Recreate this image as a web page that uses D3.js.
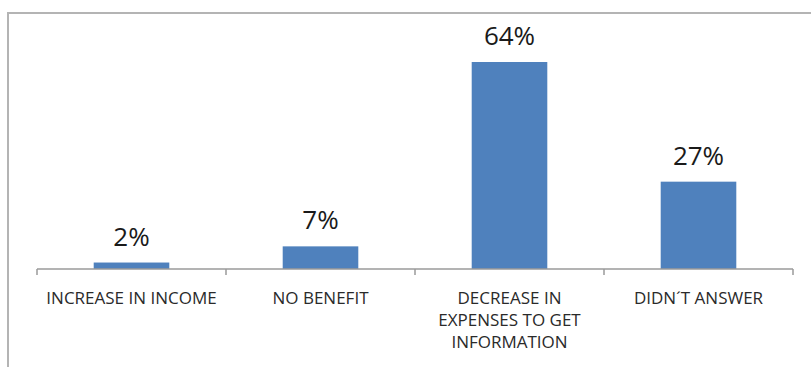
<!DOCTYPE html>
<html>
<head>
<meta charset="utf-8">
<script src="https://cdn.jsdelivr.net/npm/d3@7"></script>
<style>
  body { margin: 0; background: #fff; }
  svg { display: block; }
</style>
</head>
<body>
<svg id="chart"></svg>
<script>
var categories = ["INCREASE IN INCOME", "NO BENEFIT", "DECREASE IN EXPENSES TO GET INFORMATION", "DIDN\u00B4T ANSWER"]
// how the long label wraps in the picture
var tickLines = [["INCREASE IN INCOME"], ["NO BENEFIT"], ["DECREASE IN", "EXPENSES TO GET", "INFORMATION"], ["DIDN\u00B4T ANSWER"]]
var values = [2, 7, 64, 27]

var W = 811, H = 367
var svg = d3.select("#chart")
    .attr("width", W)
    .attr("height", H)

// frame, runs off the right and bottom edge
svg.append("rect")
  .attr("x", 8)
  .attr("y", 13)
  .attr("width", 900)
  .attr("height", 500)
  .attr("fill", "none")
  .attr("stroke", "#b4b4b4")
  .attr("stroke-width", 2)

var x = d3.scaleBand()
    .domain(categories)
    .range([37, 793])
    .padding(0)

var y = d3.scaleLinear()
    .domain([0, 64])
    .range([269, 62])

var barW = x.bandwidth() * 0.4

// bars
svg.selectAll(".bar")
  .data(values)
  .enter().append("rect")
  .attr("class", "bar")
  .attr("x", function(d, i) { return x(categories[i]) + (x.bandwidth() - barW) / 2 })
  .attr("y", function(d) { return y(d) })
  .attr("width", barW)
  .attr("height", function(d) { return y(0) - y(d) })
  .attr("fill", "#4f81bd")

// value labels
svg.selectAll(".val")
  .data(values)
  .enter().append("text")
  .attr("class", "val")
  .attr("x", function(d, i) { return x(categories[i]) + x.bandwidth() / 2 })
  .attr("y", function(d) { return y(d) - 17 })
  .attr("text-anchor", "middle")
  .attr("font-family", "Open Sans, sans-serif")
  .attr("font-size", "26px")
  .attr("fill", "#1a1a1a")
  .text(function(d) { return d + "%" })

// x axis with ticks between categories
var axis = svg.append("g")
  .attr("transform", "translate(0," + y(0) + ")")

axis.append("line")
  .attr("x1", x.range()[0])
  .attr("x2", x.range()[1])
  .attr("stroke", "#9a9a9a")
  .attr("stroke-width", 1.5)

var bounds = categories.map(function(c) { return x(c) }).concat([x.range()[1]])
axis.selectAll(".tick")
  .data(bounds)
  .enter().append("line")
  .attr("x1", function(d) { return d })
  .attr("x2", function(d) { return d })
  .attr("y1", 0)
  .attr("y2", 6)
  .attr("stroke", "#9a9a9a")
  .attr("stroke-width", 1.5)

var labels = axis.selectAll(".lab")
  .data(categories)
  .enter().append("text")
  .attr("class", "lab")
  .attr("text-anchor", "middle")
  .attr("font-family", "Open Sans, sans-serif")
  .attr("font-size", "17px")
  .attr("fill", "#2a2a2a")

labels.selectAll("tspan")
  .data(function(d, i) { return tickLines[i].map(function(t) { return {t: t, c: d} }) })
  .enter().append("tspan")
  .attr("x", function(d) { return x(d.c) + x.bandwidth() / 2 })
  .attr("y", function(d, j) { return 35 + j * 22 })
  .text(function(d) { return d.t })
</script>
</body>
</html>
